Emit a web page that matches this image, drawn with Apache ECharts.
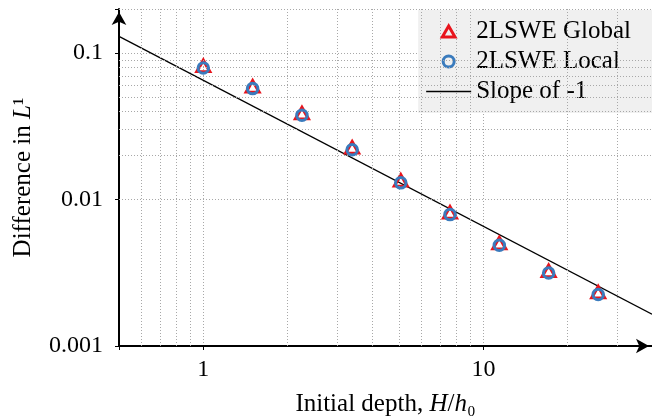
<!DOCTYPE html>
<html><head><meta charset="utf-8">
<script src="https://cdn.jsdelivr.net/npm/echarts@6/dist/echarts.min.js"></script>
<style>html,body{margin:0;padding:0;background:#fff}#c{width:652px;height:418px}</style>
</head><body><div id="c"></div>
<script>
// Data
const depth = [1, 1.5, 2.25, 3.4, 5.07, 7.6, 11.4, 17.1, 25.7];
const globalErr = [0.0792, 0.0574, 0.0377, 0.0220, 0.0131, 0.00792, 0.00489, 0.00316, 0.00226];
const localErr = [0.0790, 0.0572, 0.0376, 0.0219, 0.0130, 0.00789, 0.00487, 0.00315, 0.00225];
const slopeX = [0.5, 40];
const slopeY = [0.130, 0.00165];
const seriesNames = ['2LSWE Global', '2LSWE Local', 'Slope of -1'];
const xTickValues = [1, 10];
const xTickLabels = ['1', '10'];
const yTickValues = [0.001, 0.01, 0.1];
const yTickLabels = ['0.001', '0.01', '0.1'];
const xMinorGrid = [0.6, 0.7, 0.8, 0.9, 2, 3, 4, 5, 6, 7, 8, 9, 20, 30];
const yMinorGrid = [0.002, 0.003, 0.004, 0.005, 0.006, 0.007, 0.008, 0.009,
                    0.02, 0.03, 0.04, 0.05, 0.06, 0.07, 0.08, 0.09, 0.2];

const FONT = 'Liberation Serif';
const RED = '#e8141c';
const BLUE = '#3a7bbd';
const GRID_STYLE = {color: '#a8a8a8', width: 1, type: [1, 2]};
const TRI_PATH = 'path://M0,-10L8.66,5L-8.66,5Z';
const LINE_PATH = 'path://M0,0H45V1.3H0Z';

function labelFor(values, labels) {
  return function (v) {
    for (let i = 0; i < values.length; i++) {
      if (Math.abs(Math.log10(v) - Math.log10(values[i])) < 1e-6) return labels[i];
    }
    return '';
  };
}
function nameStyle() {
  return {
    fontFamily: FONT, fontSize: 25, color: '#000',
    rich: {
      t: {fontFamily: FONT, fontSize: 25, color: '#000'},
      i: {fontFamily: FONT, fontSize: 25, color: '#000', fontStyle: 'italic'}
    }
  };
}

const chart = echarts.init(document.getElementById('c'), null, {renderer: 'canvas'});
const option = {
  animation: false,
  backgroundColor: '#fff',
  grid: {left: 119, right: 0, top: 9, bottom: 72, containLabel: false, outerBoundsMode: 'none'},
  xAxis: {
    type: 'log', logBase: 10, min: 0.5, max: 40,
    name: '{t|Initial depth, }{i|H}{t|/}{i|h}{t|₀}',
    nameLocation: 'middle', nameGap: 46,
    nameTextStyle: nameStyle(),
    axisLine: {show: true, lineStyle: {color: '#000', width: 2},
      symbol: ['none', 'arrow'], symbolSize: [11, 13], symbolOffset: [0, -3]},
    axisTick: {show: true, length: 4, lineStyle: {color: '#000', width: 1}},
    axisLabel: {fontFamily: FONT, fontSize: 24, color: '#000', margin: 12,
      formatter: labelFor(xTickValues, xTickLabels)},
    splitLine: {show: true, lineStyle: GRID_STYLE}
  },
  yAxis: {
    type: 'log', logBase: 10, min: 0.001, max: 0.2,
    name: '{t|Difference in }{i|L}{t|¹}',
    nameLocation: 'middle', nameGap: 83, nameRotate: 90,
    nameTextStyle: nameStyle(),
    axisLine: {show: true, lineStyle: {color: '#000', width: 2},
      symbol: ['none', 'arrow'], symbolSize: [11, 13], symbolOffset: [0, -3]},
    axisTick: {show: true, length: 4, lineStyle: {color: '#000', width: 1}},
    axisLabel: {fontFamily: FONT, fontSize: 24, color: '#000', margin: 16,
      formatter: labelFor(yTickValues, yTickLabels)},
    splitLine: {show: true, lineStyle: GRID_STYLE}
  },
  legend: {
    orient: 'vertical', right: 0, top: 10,
    backgroundColor: '#f0f0f0', borderWidth: 0,
    padding: [9, 21, 9, 8], itemGap: 5,
    itemWidth: 45, itemHeight: 11,
    symbolKeepAspect: true,
    textStyle: {fontFamily: FONT, fontSize: 25, color: '#000'},
    data: [
      {name: seriesNames[0], icon: TRI_PATH,
        itemStyle: {color: 'rgba(0,0,0,0)', borderColor: RED, borderWidth: 3, opacity: 1}},
      {name: seriesNames[1], icon: 'circle',
        itemStyle: {color: 'rgba(0,0,0,0)', borderColor: BLUE, borderWidth: 3, opacity: 1}},
      {name: seriesNames[2], icon: LINE_PATH,
        itemStyle: {color: '#000', borderWidth: 0, opacity: 1}}
    ]
  },
  series: [
    {
      type: 'line', name: '_grid', data: [], silent: true, z: 0,
      markLine: {
        silent: true, symbol: 'none', animation: false,
        label: {show: false},
        lineStyle: GRID_STYLE,
        emphasis: {disabled: true},
        data: xMinorGrid.map(v => ({xAxis: v})).concat(yMinorGrid.map(v => ({yAxis: v})))
      }
    },
    {
      type: 'line', name: seriesNames[2], z: 3,
      data: slopeX.map((x, i) => [x, slopeY[i]]),
      symbol: 'none', showSymbol: false,
      lineStyle: {color: '#000', width: 1.3},
      itemStyle: {color: '#000'}
    },
    {
      type: 'scatter', name: seriesNames[0], z: 4,
      data: depth.map((x, i) => [x, globalErr[i]]),
      symbol: 'triangle', symbolSize: [13, 11.5], symbolOffset: [0, -2],
      itemStyle: {color: 'rgba(0,0,0,0)', borderColor: RED, borderWidth: 3, opacity: 1}
    },
    {
      type: 'scatter', name: seriesNames[1], z: 5,
      data: depth.map((x, i) => [x, localErr[i]]),
      symbol: 'circle', symbolSize: 10.5,
      itemStyle: {color: 'rgba(0,0,0,0)', borderColor: BLUE, borderWidth: 3, opacity: 1}
    }
  ]
};
chart.setOption(option);
</script>
</body></html>
